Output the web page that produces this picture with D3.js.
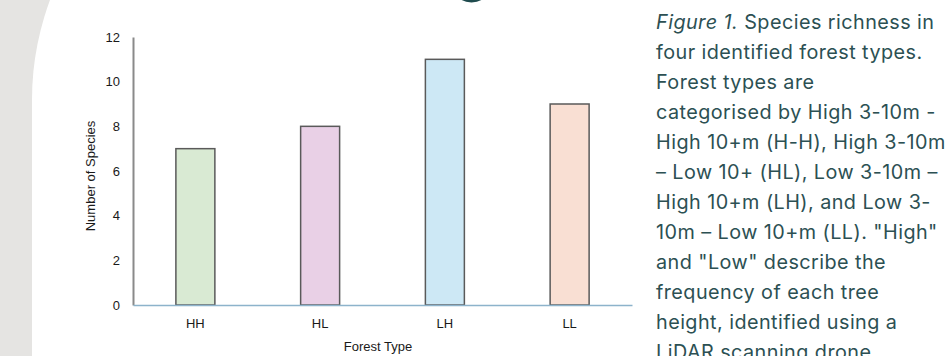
<!DOCTYPE html>
<html>
<head>
<meta charset="utf-8">
<script src="https://cdn.jsdelivr.net/npm/d3@7/dist/d3.min.js"></script>
<style>
  html, body { margin: 0; padding: 0; background: #e5e4e2; }
  svg { display: block; }
</style>
</head>
<body>
<svg id="fig" width="947" height="356"></svg>
<script>
// Species richness per forest type
const categories = ["HH", "HL", "LH", "LL"];
const speciesCounts = [7, 8, 11, 9];
const barColors = ["#d9ead3", "#e9d0e6", "#cde8f5", "#f9dfd3"];
const yTicks = [0, 2, 4, 6, 8, 10, 12];
const yTitle = "Number of Species";
const xTitle = "Forest Type";
const captionLead = "Figure 1.";
const captionLines = [
  " Species richness in",
  "four identified forest types.",
  "Forest types are",
  "categorised by High 3-10m -",
  "High 10+m (H-H), High 3-10m",
  "\u2013 Low 10+ (HL), Low 3-10m \u2013",
  "High 10+m (LH), and Low 3-",
  "10m \u2013 Low 10+m (LL). \"High\"",
  "and \"Low\" describe the",
  "frequency of each tree",
  "height, identified using a",
  "LiDAR scanning drone."
];

const svg = d3.select("#fig");
const W = 947, H = 356;

// page sheet: grey margin with a white card whose top-left corner is rounded
const cardR = 287, cardLeft = 32, cardTop = 100 - cardR;
svg.append("rect").attr("width", W).attr("height", H).attr("fill", "#e5e4e2");
svg.append("path")
  .attr("d", `M${cardLeft},${H} L${cardLeft},${cardTop + cardR} A${cardR},${cardR} 0 0 1 ${cardLeft + cardR},${cardTop} L${W},${cardTop} L${W},${H} Z`)
  .attr("fill", "#ffffff");

// descender of the section heading above
svg.append("ellipse")
  .attr("cx", 471.5).attr("cy", -6).attr("rx", 14).attr("ry", 8.5)
  .attr("fill", "#1f4b4e");

// chart
const y = d3.scaleLinear().domain([0, 12]).range([305, 37]);
const x = d3.scaleBand().domain(categories).range([133, 632])
  .paddingInner(0.6875).paddingOuter(0.34375);

const chartFont = "'Liberation Sans', Arial, sans-serif";

const gy = svg.append("g").attr("transform", `translate(${x.range()[0]},0)`)
  .call(d3.axisLeft(y).tickValues(yTicks).tickSize(0).tickSizeOuter(0).tickPadding(13));
gy.select(".domain").attr("stroke", "#8a8a8a").attr("stroke-width", 2);
gy.selectAll("text").attr("font-family", chartFont).attr("font-size", 13).attr("fill", "#1a1a1a");

svg.append("g").selectAll("rect")
  .data(categories)
  .join("rect")
  .attr("x", d => x(d))
  .attr("y", (d, i) => y(speciesCounts[i]))
  .attr("width", x.bandwidth())
  .attr("height", (d, i) => y(0) - y(speciesCounts[i]))
  .attr("fill", (d, i) => barColors[i])
  .attr("stroke", "#5a5a5a")
  .attr("stroke-width", 1.5);

const gx = svg.append("g").attr("transform", `translate(0,${y(0)})`)
  .call(d3.axisBottom(x).tickSize(0).tickSizeOuter(0).tickPadding(14));
gx.select(".domain").attr("stroke", "#8db3cb").attr("stroke-width", 1.5);
gx.selectAll("text").attr("font-family", chartFont).attr("font-size", 13).attr("fill", "#1a1a1a");

svg.append("text")
  .attr("transform", `translate(95,176) rotate(-90)`)
  .attr("text-anchor", "middle")
  .attr("font-family", chartFont).attr("font-size", 13).attr("fill", "#1a1a1a")
  .text(yTitle);

svg.append("text")
  .attr("x", 378).attr("y", 351)
  .attr("text-anchor", "middle")
  .attr("font-family", chartFont).attr("font-size", 13).attr("fill", "#1a1a1a")
  .text(xTitle);

// caption
const cap = svg.append("text")
  .attr("font-family", "Inter, 'Noto Sans', sans-serif")
  .attr("font-size", 19.8)
  .attr("letter-spacing", 0.45)
  .attr("fill", "#2c5053");
captionLines.forEach((line, i) => {
  const t = cap.append("tspan").attr("x", 656).attr("y", 29 + i * 30);
  if (i === 0) {
    t.attr("font-style", "italic").text(captionLead);
    cap.append("tspan").text(line);
  } else {
    t.text(line);
  }
});
</script>
</body>
</html>
